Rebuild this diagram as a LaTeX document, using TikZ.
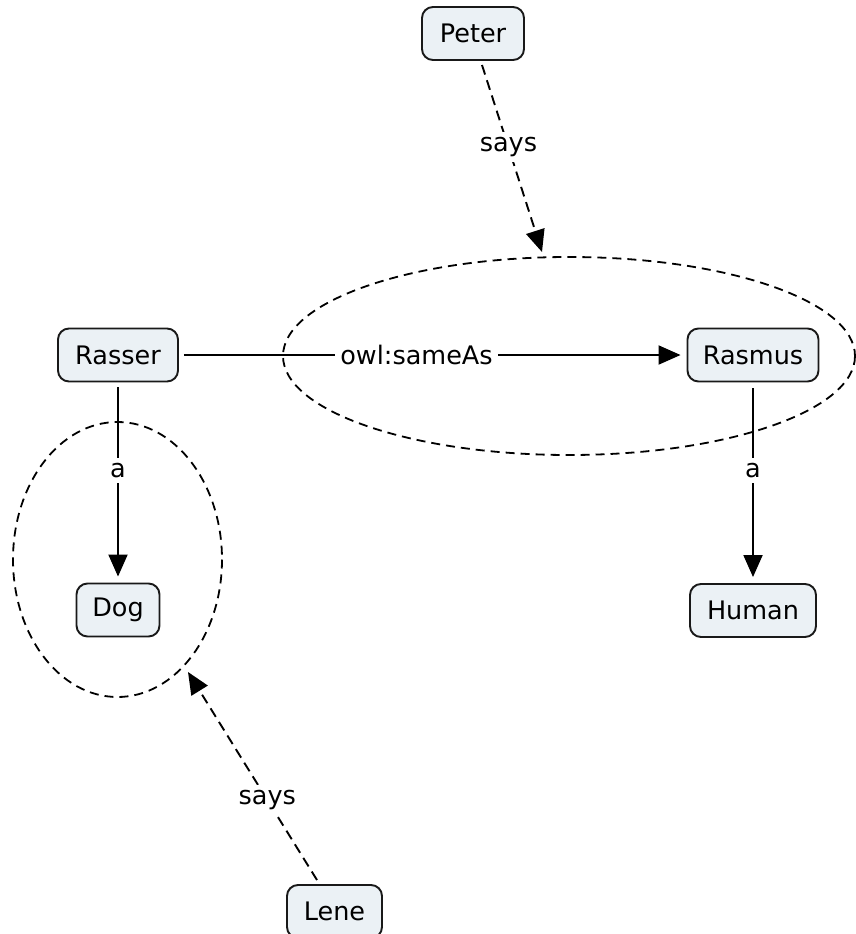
\documentclass[tikz,border=0pt]{standalone}
\usepackage{fontspec}
\setmainfont{DejaVu Sans}
\usetikzlibrary{arrows.meta}
\definecolor{boxfill}{RGB}{235,241,245}
\definecolor{boxline}{RGB}{25,25,25}
\begin{document}
\begin{tikzpicture}[x=1pt,y=-1pt,
  concept/.style={draw=boxline, line width=1.9pt, rounded corners=11pt,
    fill=boxfill, minimum height=53pt, inner sep=0pt,
    font=\fontsize{25.5}{30}\selectfont},
  lbl/.style={fill=white, inner sep=5pt, font=\fontsize{25.5}{30}\selectfont},
  link/.style={line width=1.9pt, -{Triangle[length=22pt,width=19pt]}},
  claimlink/.style={link, dash pattern=on 10pt off 6pt},
  claimring/.style={line width=1.8pt, dash pattern=on 9pt off 6pt}]
\useasboundingbox (0,0) rectangle (856,934);

% statements in the graph
\node[concept, minimum width=102pt] (peter)  at (473,33.5)  {Peter};
\node[concept, minimum width=120pt] (rasser) at (118,355)   {Rasser};
\node[concept, minimum width=131pt] (rasmus) at (753,355) {Rasmus};
\node[concept, minimum width=126pt] (human)  at (753,610.5) {Human};
\node[concept, minimum width=83pt]  (dog)    at (118,610) {Dog};
\node[concept, minimum width=95pt]  (lene)   at (334.5,911.5) {Lene};

% quoted statements
\draw[claimring] (569,356) ellipse [x radius=286, y radius=99];
\draw[claimring] (117.5,559.5) ellipse [x radius=104.5, y radius=137.5];

% connector ends
\coordinate (peterfrom) at (482,65);
\coordinate (petertip)  at (542,252);
\coordinate (lenefrom)  at (317,880);
\coordinate (lenetip)   at (188,672);

\draw[link, shorten <=5pt, shorten >=6pt] (rasser.east) -- node[lbl, pos=0.468] {owl:sameAs} (rasmus.west);
\draw[link, shorten <=5pt, shorten >=6pt] (rasser.south) -- node[lbl, pos=0.44] {a} (dog.north);
\draw[link, shorten <=6pt, shorten >=6pt] (rasmus.south) -- node[lbl, pos=0.44] {a} (human.north);
\draw[claimlink] (peterfrom) -- node[lbl, pos=0.44] {says} (petertip);
\draw[claimlink] (lenefrom) -- node[lbl, pos=0.385] {says} (lenetip);
\end{tikzpicture}
\end{document}
